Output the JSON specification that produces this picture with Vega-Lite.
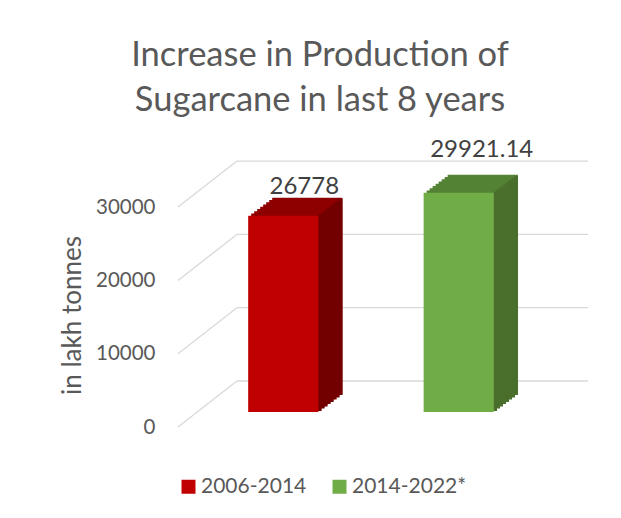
{
  "$schema": "https://vega.github.io/schema/vega-lite/v6.json",
  "width": 412,
  "height": 277,
  "autosize": {"type": "none"},
  "padding": {"left": 178, "top": 150, "right": 31, "bottom": 91},
  "background": "white",
  "config": {"view": {"stroke": null}, "font": "Lato"},
  "title": {
    "text": ["Increase in Production of", "Sugarcane in last 8 years"],
    "anchor": "middle",
    "dx": -64,
    "fontSize": 34.5,
    "font": "Lato",
    "fontWeight": "normal",
    "color": "#595959",
    "lineHeight": 45,
    "offset": 19
  },
  "datasets": {
    "bars": [
      {"period": "2006-2014", "value": 26778, "label": "26778"},
      {"period": "2014-2022*", "value": 29921.14, "label": "29921.14"}
    ],
    "grid": [
      {"value": 0},
      {"value": 10000},
      {"value": 20000},
      {"value": 30000}
    ]
  },
  "encoding": {
    "y": {
      "field": "value",
      "type": "quantitative",
      "scale": {"domain": [0, 37790], "nice": false, "zero": false},
      "axis": {
        "values": [0, 10000, 20000, 30000],
        "format": "d",
        "grid": false,
        "domain": false,
        "ticks": false,
        "labelPadding": 23,
        "labelFontSize": 20.5,
        "labelFont": "Lato",
        "labelColor": "#595959",
        "title": "in lakh tonnes",
        "titleFont": "Lato",
        "titleFontSize": 26,
        "titleFontWeight": "normal",
        "titleColor": "#595959",
        "titleX": -106,
        "titleY": 165,
        "titleAlign": "center",
        "titleBaseline": "middle"
      }
    }
  },
  "layer": [
    {
      "data": {"name": "grid"},
      "layer": [
        {
          "mark": {"type": "rule", "color": "#d9d9d9", "strokeWidth": 1.3, "yOffset": -46},
          "encoding": {
            "x": {"datum": 0.143, "type": "quantitative", "scale": {"domain": [0, 1], "nice": false}, "axis": null},
            "x2": {"datum": 0.995}
          }
        },
        {
          "mark": {"type": "rule", "color": "#d9d9d9", "strokeWidth": 1.3, "y2Offset": -46},
          "encoding": {
            "x": {"datum": 0, "type": "quantitative", "scale": {"domain": [0, 1], "nice": false}, "axis": null},
            "x2": {"datum": 0.143},
            "y2": {"field": "value"}
          }
        }
      ]
    },
    {
      "data": {"name": "bars"},
      "encoding": {
        "x": {
          "field": "period",
          "type": "nominal",
          "axis": null,
          "scale": {"domain": ["2006-2014", "2014-2022*"], "range": [0, 386], "paddingInner": 0.6, "paddingOuter": 0.4}
        }
      },
      "layer": [
        {"mark": {"type": "bar", "xOffset": 24, "yOffset": -33, "y2Offset": -33},
         "encoding": {"fill": {"field": "period", "scale": {"domain": ["2006-2014", "2014-2022*"], "range": ["#8E0000", "#548235"]}, "legend": null}}},
        {"mark": {"type": "bar", "xOffset": 21, "yOffset": -30.75, "y2Offset": -30.75},
         "encoding": {"fill": {"field": "period", "scale": {"domain": ["2006-2014", "2014-2022*"], "range": ["#8E0000", "#548235"]}, "legend": null}}},
        {"mark": {"type": "bar", "xOffset": 18, "yOffset": -28.5, "y2Offset": -28.5},
         "encoding": {"fill": {"field": "period", "scale": {"domain": ["2006-2014", "2014-2022*"], "range": ["#8E0000", "#548235"]}, "legend": null}}},
        {"mark": {"type": "bar", "xOffset": 15, "yOffset": -26.25, "y2Offset": -26.25},
         "encoding": {"fill": {"field": "period", "scale": {"domain": ["2006-2014", "2014-2022*"], "range": ["#8E0000", "#548235"]}, "legend": null}}},
        {"mark": {"type": "bar", "xOffset": 12, "yOffset": -24, "y2Offset": -24},
         "encoding": {"fill": {"field": "period", "scale": {"domain": ["2006-2014", "2014-2022*"], "range": ["#8E0000", "#548235"]}, "legend": null}}},
        {"mark": {"type": "bar", "xOffset": 9, "yOffset": -21.75, "y2Offset": -21.75},
         "encoding": {"fill": {"field": "period", "scale": {"domain": ["2006-2014", "2014-2022*"], "range": ["#8E0000", "#548235"]}, "legend": null}}},
        {"mark": {"type": "bar", "xOffset": 6, "yOffset": -19.5, "y2Offset": -19.5},
         "encoding": {"fill": {"field": "period", "scale": {"domain": ["2006-2014", "2014-2022*"], "range": ["#8E0000", "#548235"]}, "legend": null}}},
        {"mark": {"type": "bar", "xOffset": 3, "yOffset": -17.25, "y2Offset": -17.25},
         "encoding": {"fill": {"field": "period", "scale": {"domain": ["2006-2014", "2014-2022*"], "range": ["#8E0000", "#548235"]}, "legend": null}}},
        {"mark": {"type": "bar", "width": 3.6, "xOffset": 36.5, "yOffset": -16.1, "y2Offset": -16.1},
         "encoding": {"fill": {"field": "period", "scale": {"domain": ["2006-2014", "2014-2022*"], "range": ["#730000", "#4A6E2B"]}, "legend": null}}},
        {"mark": {"type": "bar", "width": 3.6, "xOffset": 39.5, "yOffset": -18.4, "y2Offset": -18.4},
         "encoding": {"fill": {"field": "period", "scale": {"domain": ["2006-2014", "2014-2022*"], "range": ["#730000", "#4A6E2B"]}, "legend": null}}},
        {"mark": {"type": "bar", "width": 3.6, "xOffset": 42.5, "yOffset": -20.6, "y2Offset": -20.6},
         "encoding": {"fill": {"field": "period", "scale": {"domain": ["2006-2014", "2014-2022*"], "range": ["#730000", "#4A6E2B"]}, "legend": null}}},
        {"mark": {"type": "bar", "width": 3.6, "xOffset": 45.5, "yOffset": -22.9, "y2Offset": -22.9},
         "encoding": {"fill": {"field": "period", "scale": {"domain": ["2006-2014", "2014-2022*"], "range": ["#730000", "#4A6E2B"]}, "legend": null}}},
        {"mark": {"type": "bar", "width": 3.6, "xOffset": 48.5, "yOffset": -25.1, "y2Offset": -25.1},
         "encoding": {"fill": {"field": "period", "scale": {"domain": ["2006-2014", "2014-2022*"], "range": ["#730000", "#4A6E2B"]}, "legend": null}}},
        {"mark": {"type": "bar", "width": 3.6, "xOffset": 51.5, "yOffset": -27.4, "y2Offset": -27.4},
         "encoding": {"fill": {"field": "period", "scale": {"domain": ["2006-2014", "2014-2022*"], "range": ["#730000", "#4A6E2B"]}, "legend": null}}},
        {"mark": {"type": "bar", "width": 3.6, "xOffset": 54.5, "yOffset": -29.6, "y2Offset": -29.6},
         "encoding": {"fill": {"field": "period", "scale": {"domain": ["2006-2014", "2014-2022*"], "range": ["#730000", "#4A6E2B"]}, "legend": null}}},
        {"mark": {"type": "bar", "width": 3.6, "xOffset": 57.5, "yOffset": -31.9, "y2Offset": -31.9},
         "encoding": {"fill": {"field": "period", "scale": {"domain": ["2006-2014", "2014-2022*"], "range": ["#730000", "#4A6E2B"]}, "legend": null}}},
        {"mark": {"type": "bar", "yOffset": -15, "y2Offset": -15},
         "encoding": {"color": {
           "field": "period",
           "type": "nominal",
           "scale": {"domain": ["2006-2014", "2014-2022*"], "range": ["#C00000", "#70AD47"]},
           "legend": {
             "title": null,
             "orient": "none",
             "direction": "horizontal",
             "legendX": 0,
             "legendY": 326,
             "symbolType": "square",
             "symbolSize": 196,
             "symbolStrokeWidth": 0,
             "labelFont": "Lato",
             "labelFontSize": 21,
             "labelColor": "#595959",
             "labelOffset": 2,
             "columnPadding": 22
           }
         }}},
        {"transform": [{"filter": "datum.period == '2006-2014'"}],
         "mark": {"type": "text", "font": "Lato", "fontSize": 24, "color": "#404040", "dx": 21, "yOffset": -44, "baseline": "middle"},
         "encoding": {"text": {"field": "label"}}},
        {"transform": [{"filter": "datum.period == '2014-2022*'"}],
         "mark": {"type": "text", "font": "Lato", "fontSize": 24, "color": "#404040", "dx": 23, "yOffset": -58, "baseline": "middle"},
         "encoding": {"text": {"field": "label"}}}
      ],
      "resolve": {"scale": {"fill": "independent"}}
    }
  ],
  "resolve": {"scale": {"x": "independent"}}
}
